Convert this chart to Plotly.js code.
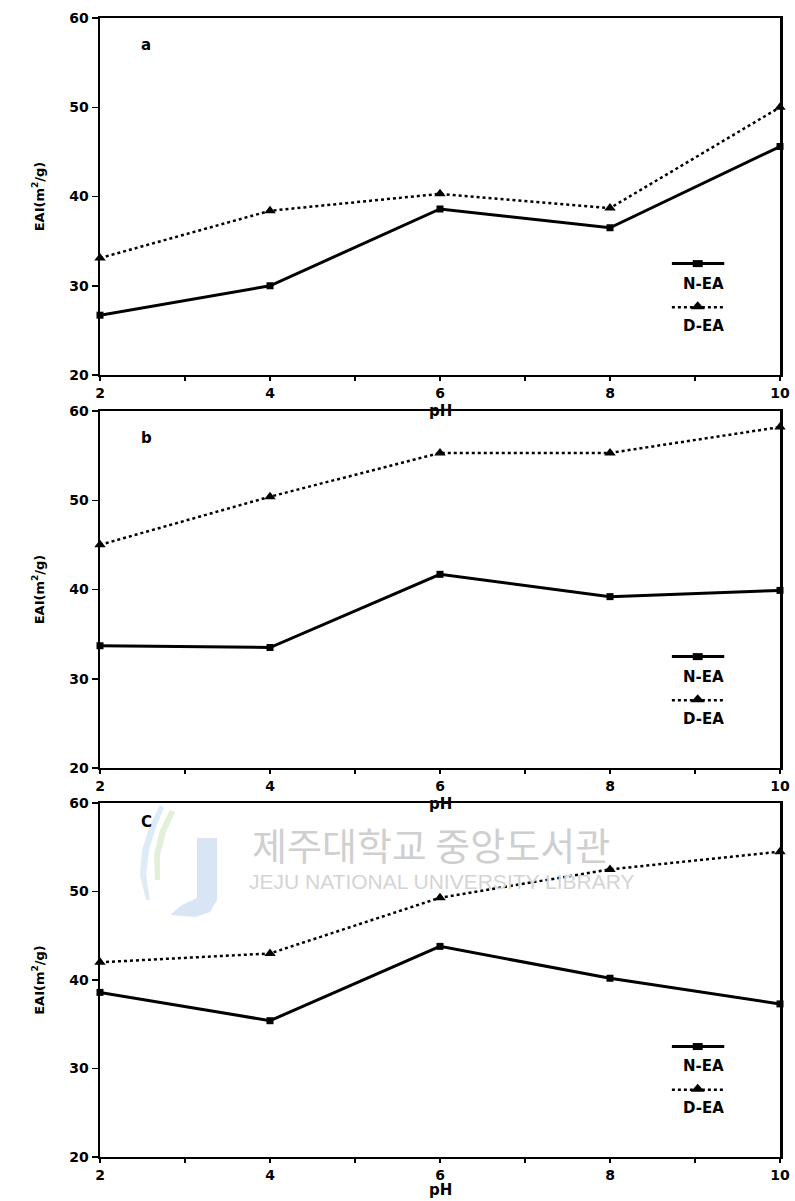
<!DOCTYPE html>
<html>
<head>
<meta charset="utf-8">
<script src="https://cdn.plot.ly/plotly-3.0.1.min.js"></script>
<style>
html,body{margin:0;padding:0;background:#fff;}
#chart{width:795px;height:1201px;}
</style>
</head>
<body>
<div id="chart"></div>
<script>
// ---- data ----
const pH = [2, 4, 6, 8, 10];
const nA = [26.7, 30.0, 38.6, 36.5, 45.6];
const dA = [33.1, 38.4, 40.3, 38.7, 50.0];
const nB = [33.7, 33.5, 41.7, 39.2, 39.9];
const dB = [45.0, 50.4, 55.3, 55.3, 58.2];
const nC = [38.6, 35.4, 43.8, 40.2, 37.3];
const dC = [42.0, 43.0, 49.3, 52.5, 54.5];
const panelLabels = ['a', 'b', 'C'];
const seriesNames = ['N-EA', 'D-EA'];
const xTickVals = [2, 4, 6, 8, 10];
const yTickVals = [20, 30, 40, 50, 60];
const yTitle = 'EAI(m<sup>2</sup>/g)';
const xTitle = 'pH';
const wmKorean = '제주대학교 중앙도서관';
const wmEnglish = 'JEJU NATIONAL UNIVERSITY LIBRARY';

const W = 795, H = 1201, ML = 100, MR = 15;
const PW = W - ML - MR;
const FAM = 'DejaVu Sans, Liberation Sans, Arial, sans-serif';
const font = {family: FAM, color: '#000', size: 14, weight: 'bold'};
const domains = [[1 - 375 / H, 1 - 18 / H], [1 - 768 / H, 1 - 411 / H], [1 - 1157 / H, 1 - 803 / H]];
const seriesN = [nA, nB, nC];
const seriesD = [dA, dB, dC];

const traces = [];
const layout = {
  width: W, height: H,
  margin: {l: ML, r: MR, t: 0, b: 0},
  paper_bgcolor: '#fff', plot_bgcolor: 'rgba(0,0,0,0)',
  showlegend: false,
  font: {family: FAM, color: '#000', size: 14},
  shapes: [], annotations: []
};

function px2paper(x, y) { return [(x - ML) / PW, 1 - y / H]; }

// watermark (behind)
(function () {
  const pts = (arr) => arr.map(p => { const q = px2paper(p[0], p[1]); return q[0].toFixed(4) + ',' + q[1].toFixed(4); });
  function path(arr, close) {
    const p = pts(arr);
    return 'M' + p[0] + ' ' + p.slice(1).map(s => 'L' + s).join(' ') + (close ? ' Z' : '');
  }
  layout.shapes.push({type: 'path', xref: 'paper', yref: 'paper', layer: 'below',
    path: path([[197, 838], [217, 838], [217, 900], [210, 912], [195, 917], [170, 915], [182, 905], [197, 898]], true),
    fillcolor: 'rgba(160,190,228,0.4)', line: {width: 0}});
  layout.shapes.push({type: 'path', xref: 'paper', yref: 'paper', layer: 'below',
    path: path([[160, 805], [150, 825], [142, 850], [140, 875], [146, 900], [150, 900], [146, 875], [149, 850], [156, 827], [164, 808]], true),
    fillcolor: 'rgba(170,205,235,0.4)', line: {width: 0}});
  layout.shapes.push({type: 'path', xref: 'paper', yref: 'paper', layer: 'below',
    path: path([[170, 810], [160, 830], [154, 855], [155, 880], [160, 880], [160, 855], [166, 832], [175, 812]], true),
    fillcolor: 'rgba(190,220,170,0.45)', line: {width: 0}});
  const k = px2paper(431, 843), e = px2paper(442, 881);
  layout.annotations.push({xref: 'paper', yref: 'paper', x: k[0], y: k[1], text: wmKorean, showarrow: false,
    xanchor: 'center', yanchor: 'middle', font: {family: 'Noto Sans CJK KR', size: 38, color: '#cfcfcf', weight: 'normal'}});
  layout.annotations.push({xref: 'paper', yref: 'paper', x: e[0], y: e[1], text: wmEnglish, showarrow: false,
    xanchor: 'center', yanchor: 'middle', font: {family: 'Liberation Sans, Arial', size: 21, color: '#d4d4d4', weight: 'normal'}});
})();

for (let i = 0; i < 3; i++) {
  const s = i === 0 ? '' : String(i + 1);
  const xa = 'x' + s, ya = 'y' + s;
  traces.push({x: pH, y: seriesN[i], xaxis: xa, yaxis: ya, type: 'scatter', mode: 'lines+markers', name: seriesNames[0],
    line: {color: '#000', width: 3}, marker: {symbol: 'square', size: 7, color: '#000'}, cliponaxis: false});
  traces.push({x: pH, y: seriesD[i], xaxis: xa, yaxis: ya, type: 'scatter', mode: 'lines+markers', name: seriesNames[1],
    line: {color: '#000', width: 2.5, dash: 'dot'}, marker: {symbol: 'triangle-up', size: 10, color: '#000'}, cliponaxis: false});

  layout['xaxis' + s] = {
    domain: [0, 1], anchor: ya, range: [2, 10], tickmode: 'array', tickvals: xTickVals,
    ticks: 'outside', ticklen: 4, tickwidth: 1.5, tickcolor: '#000', showgrid: false, zeroline: false,
    minor: {dtick: 1, ticks: 'outside', ticklen: 4, tickwidth: 1.5, tickcolor: '#000', showgrid: false},
    showline: true, linecolor: '#000', linewidth: 2, mirror: true, tickfont: font, fixedrange: true
  };
  layout['yaxis' + s] = {
    domain: domains[i], anchor: xa, range: [20, 60], tickmode: 'array', tickvals: yTickVals,
    ticks: 'outside', ticklen: 6, tickwidth: 1.5, tickcolor: '#000', showgrid: false, zeroline: false,
    showline: true, linecolor: '#000', linewidth: 2.5, mirror: true, tickfont: font,
    title: {text: yTitle, font: {family: FAM, size: 13, color: '#000', weight: 'bold'}, standoff: 22}, fixedrange: true
  };
  const xd = xa + ' domain', yd = ya + ' domain';
  // pH title
  layout.annotations.push({xref: xd, yref: yd, x: 0.5, y: 0, yshift: i === 2 ? -33 : -36, text: xTitle, showarrow: false,
    xanchor: 'center', yanchor: 'middle', font: {family: FAM, size: 15, color: '#000', weight: 'bold'}});
  // panel letter
  layout.annotations.push({xref: xd, yref: yd, x: 0.068, y: i === 2 ? 0.946 : 0.925, text: panelLabels[i], showarrow: false,
    xanchor: 'center', yanchor: 'middle', font: {family: FAM, size: 15, color: '#000', weight: 'bold'}});
  // legend
  const lx0 = 0.841, lx1 = 0.918, lxm = 0.879;
  const yl1 = 0.312, yt1 = 0.256, yl2 = 0.19, yt2 = 0.138;
  layout.shapes.push({type: 'line', xref: xd, yref: yd, x0: lx0, x1: lx1, y0: yl1, y1: yl1, line: {color: '#000', width: 3}});
  layout.shapes.push({type: 'rect', xref: xd, yref: yd, xsizemode: 'pixel', ysizemode: 'pixel', xanchor: lxm, yanchor: yl1,
    x0: -5, x1: 5, y0: -3.5, y1: 3.5, fillcolor: '#000', line: {width: 0}});
  layout.shapes.push({type: 'line', xref: xd, yref: yd, x0: lx0, x1: lx1, y0: yl2, y1: yl2, line: {color: '#000', width: 2.5, dash: 'dot'}});
  layout.shapes.push({type: 'path', xref: xd, yref: yd, xsizemode: 'pixel', ysizemode: 'pixel', xanchor: lxm, yanchor: yl2,
    path: 'M -7 -2 L 7 -2 L 0 6 Z', fillcolor: '#000', line: {width: 0}});
  layout.annotations.push({xref: xd, yref: yd, x: 0.887, y: yt1, text: seriesNames[0], showarrow: false,
    xanchor: 'center', yanchor: 'middle', font: {family: FAM, size: 15, color: '#000', weight: 'bold'}});
  layout.annotations.push({xref: xd, yref: yd, x: 0.887, y: yt2, text: seriesNames[1], showarrow: false,
    xanchor: 'center', yanchor: 'middle', font: {family: FAM, size: 15, color: '#000', weight: 'bold'}});
}

Plotly.newPlot('chart', traces, layout, {displayModeBar: false, staticPlot: true});
</script>
</body>
</html>
